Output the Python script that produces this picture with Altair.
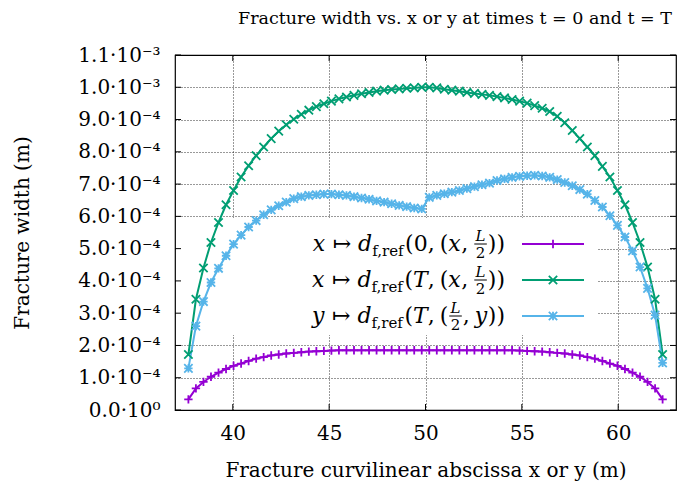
import altair as alt
import pandas as pd

SERIF = "DejaVu Serif"

# Cell-centred abscissa along the fracture (64 cells between 37.5 m and 62.5 m)
N_CELLS = 64
S_START, S_END = 37.5, 62.5
abscissa = [S_START + (k + 0.5) * (S_END - S_START) / N_CELLS for k in range(N_CELLS)]

UNIT = 1e-4  # widths below are listed in units of 1e-4 m

width_t0_x = [
    0.33, 0.67, 0.87, 1.03, 1.16, 1.27, 1.37, 1.44, 1.52, 1.59, 1.64, 1.69, 1.72, 1.75, 1.77, 1.79,
    1.81, 1.82, 1.83, 1.84, 1.85, 1.85, 1.85, 1.85, 1.85, 1.85, 1.85, 1.85, 1.85, 1.85, 1.85, 1.85,
    1.85, 1.85, 1.85, 1.85, 1.85, 1.85, 1.85, 1.85, 1.85, 1.85, 1.85, 1.85, 1.84, 1.83, 1.82, 1.81,
    1.79, 1.77, 1.75, 1.72, 1.69, 1.64, 1.59, 1.52, 1.44, 1.37, 1.27, 1.16, 1.03, 0.87, 0.67, 0.33,
]
width_T_x = [
    1.72, 3.43, 4.40, 5.19, 5.81, 6.36, 6.80, 7.22, 7.57, 7.88, 8.15, 8.41, 8.64, 8.84, 9.01, 9.16,
    9.29, 9.40, 9.49, 9.57, 9.64, 9.70, 9.75, 9.80, 9.84, 9.88, 9.91, 9.93, 9.95, 9.97, 9.98, 10.0,
    10.0, 9.98, 9.94, 9.91, 9.88, 9.84, 9.81, 9.78, 9.75, 9.71, 9.67, 9.62, 9.57, 9.51, 9.43, 9.35,
    9.25, 9.10, 8.90, 8.66, 8.41, 8.15, 7.88, 7.55, 7.22, 6.80, 6.36, 5.81, 5.19, 4.43, 3.43, 1.72,
]
width_T_y = [
    1.29, 2.60, 3.36, 3.95, 4.39, 4.78, 5.14, 5.42, 5.67, 5.87, 6.05, 6.20, 6.33, 6.44, 6.55, 6.61,
    6.65, 6.67, 6.69, 6.69, 6.67, 6.65, 6.61, 6.57, 6.53, 6.48, 6.44, 6.39, 6.34, 6.30, 6.26, 6.23,
    6.59, 6.65, 6.70, 6.75, 6.80, 6.86, 6.92, 6.98, 7.03, 7.11, 7.16, 7.21, 7.24, 7.26, 7.27, 7.25,
    7.21, 7.14, 7.05, 6.95, 6.83, 6.69, 6.49, 6.29, 6.02, 5.72, 5.36, 4.93, 4.43, 3.77, 2.94, 1.46,
]

series_names = ["t0_x", "T_x", "T_y"]
series_colors = ["#9400d3", "#009e73", "#56b4e9"]
# plus, cross and star symbols
series_shapes = [
    "M-1,0L1,0M0,-1L0,1",
    "M-1,-1L1,1M-1,1L1,-1",
    "M-1,0L1,0M0,-1L0,1M-1,-1L1,1M-1,1L1,-1",
]

x_ticks = [40, 45, 50, 55, 60]
y_ticks = [i * UNIT for i in range(12)]
y_tick_labels = [
    "0.0·10⁰", "1.0·10⁻⁴", "2.0·10⁻⁴", "3.0·10⁻⁴", "4.0·10⁻⁴", "5.0·10⁻⁴",
    "6.0·10⁻⁴", "7.0·10⁻⁴", "8.0·10⁻⁴", "9.0·10⁻⁴", "1.0·10⁻³", "1.1·10⁻³",
]

rows = []
for name, vals in zip(series_names, [width_t0_x, width_T_x, width_T_y]):
    for s, v in zip(abscissa, vals):
        rows.append({"series": name, "s": s, "w": v * UNIT})
df = pd.DataFrame(rows)

W, H = 501, 355
FS = 20
xscale = alt.Scale(domain=[37, 63], nice=False, zero=False)
yscale = alt.Scale(domain=[0, 11 * UNIT], nice=False, zero=False)
color = alt.Color("series:N", scale=alt.Scale(domain=series_names, range=series_colors), legend=None)
shape = alt.Shape("series:N", scale=alt.Scale(domain=series_names, range=series_shapes), legend=None)

label_expr = "[" + ",".join("'%s'" % t for t in y_tick_labels) + "][round(datum.value * 10000)]"

x_enc = alt.X(
    "s:Q", scale=xscale,
    axis=alt.Axis(
        values=x_ticks, title="Fracture curvilinear abscissa x or y (m)",
        ticks=False, tickSize=0, domain=False, labelPadding=13,
        grid=True, gridDash=[1, 2], gridColor="#000000", gridOpacity=0.8,
        titleY=60, titleBaseline="middle",
    ),
)
y_enc = alt.Y(
    "w:Q", scale=yscale,
    axis=alt.Axis(
        values=y_ticks, labelExpr=label_expr, title="Fracture width (m)",
        ticks=False, tickSize=0, domain=False, labelPadding=15,
        grid=True, gridDash=[1, 2], gridColor="#000000", gridOpacity=0.8,
        titleX=-153, titleY=H / 2, titleAngle=270, titleAlign="center", titleBaseline="middle",
    ),
)

one = pd.DataFrame({"k": [0]})

# opaque key box: hides the grid, drawn below the curves
key_box = alt.Chart(one).mark_rect(color="white").encode(
    x=alt.value(1), x2=alt.value(423), y=alt.value(163), y2=alt.value(280)
)

lines = alt.Chart(df).mark_line(strokeWidth=2).encode(x=x_enc, y=y_enc, color=color)
points = alt.Chart(df).mark_point(filled=False, size=70, strokeWidth=1.8, opacity=1).encode(
    x=x_enc, y=y_enc, color=color, shape=shape,
)

# inward tick marks on all four borders
xt = pd.DataFrame({"s": x_ticks})
yt = pd.DataFrame({"w": y_ticks})
ticks = [
    alt.Chart(xt).mark_rule(color="black").encode(x=x_enc, y=alt.value(H), y2=alt.value(H - 6)),
    alt.Chart(xt).mark_rule(color="black").encode(x=x_enc, y=alt.value(0), y2=alt.value(6)),
    alt.Chart(yt).mark_rule(color="black").encode(y=y_enc, x=alt.value(0), x2=alt.value(6)),
    alt.Chart(yt).mark_rule(color="black").encode(y=y_enc, x=alt.value(W), x2=alt.value(W - 6)),
]

# ---- key: math-style labels built from text pieces ----
F, S = 22, 15
EM = {"(": .390, ")": .390, ",": .318, "0": .636, "2": .636, "↦": .838,
      "x": .592, "y": .592, "d": .640, "T": .667, "L": .637,
      "f": .370, "r": .478, "e": .592}


def adv(txt, size):
    return sum(EM.get(c, .55) for c in txt) * size


def frac_w():
    return EM["L"] * S + 5


def tok_w(tok):
    kind = tok[0]
    if kind == "gap":
        return tok[1]
    if kind == "frac":
        return frac_w()
    if kind == "sub":
        return adv(tok[1], S)
    return adv(tok[1], F)


def mapsto(var):
    return [("it", var), ("gap", 7), ("rm", "↦"), ("gap", 7), ("it", "d"), ("sub", "f,ref"), ("gap", 1)]


key_tokens = {
    "t0_x": mapsto("x") + [("rm", "("), ("rm", "0"), ("rm", ","), ("gap", 5), ("rm", "("), ("it", "x"),
                           ("rm", ","), ("gap", 5), ("frac",), ("rm", ")"), ("rm", ")")],
    "T_x": mapsto("x") + [("rm", "("), ("it", "T"), ("rm", ","), ("gap", 5), ("rm", "("), ("it", "x"),
                          ("rm", ","), ("gap", 5), ("frac",), ("rm", ")"), ("rm", ")")],
    "T_y": mapsto("y") + [("rm", "("), ("it", "T"), ("rm", ","), ("gap", 5), ("rm", "("), ("frac",),
                          ("rm", ","), ("gap", 5), ("it", "y"), ("rm", ")"), ("rm", ")")],
}
key_rows_y = {"t0_x": 189, "T_x": 225, "T_y": 261}
KEY_TEXT_RIGHT = 330

pieces, bars = [], []
for name in series_names:
    toks = key_tokens[name]
    ay = key_rows_y[name]
    x = KEY_TEXT_RIGHT - sum(tok_w(t) for t in toks)
    for tok in toks:
        kind = tok[0]
        if kind == "gap":
            x += tok[1]
            continue
        if kind == "frac":
            w = frac_w()
            cx = x + w / 2
            pieces.append({"t": "L", "px": cx, "py": ay - 3, "fs": S, "kind": "itc"})
            pieces.append({"t": "2", "px": cx, "py": ay + 14, "fs": S, "kind": "rmc"})
            bars.append({"x1": x + 1, "x2": x + w - 1, "y": ay})
            x += w
            continue
        if kind == "sub":
            pieces.append({"t": tok[1], "px": x, "py": ay + 12, "fs": S, "kind": "rm"})
            x += adv(tok[1], S)
            continue
        pieces.append({"t": tok[1], "px": x, "py": ay + 7, "fs": F, "kind": kind})
        x += adv(tok[1], F)
pieces = pd.DataFrame(pieces)
bars = pd.DataFrame(bars)


def text_layer(kind, align, style):
    return alt.Chart(pieces[pieces["kind"] == kind]).mark_text(
        align=align, baseline="alphabetic", font=SERIF, fontStyle=style, color="black"
    ).encode(
        x=alt.X("px:Q", scale=None), y=alt.Y("py:Q", scale=None),
        size=alt.Size("fs:Q", scale=None, legend=None), text="t:N",
    )


key_text = [
    text_layer("it", "left", "italic"),
    text_layer("rm", "left", "normal"),
    text_layer("itc", "center", "italic"),
    text_layer("rmc", "center", "normal"),
]
key_bars = alt.Chart(bars).mark_rule(color="black", strokeWidth=1).encode(
    x=alt.X("x1:Q", scale=None), x2="x2:Q", y=alt.Y("y:Q", scale=None)
)

key_df = pd.DataFrame({"series": series_names, "ky": [key_rows_y[n] for n in series_names]})
key_lines = alt.Chart(key_df).mark_rule(strokeWidth=2).encode(
    x=alt.value(347), x2=alt.value(409), y=alt.Y("ky:Q", scale=None), color=color
)
key_marks = alt.Chart(key_df).mark_point(filled=False, size=70, strokeWidth=1.8, opacity=1).encode(
    x=alt.value(378), y=alt.Y("ky:Q", scale=None), color=color, shape=shape,
)

title = alt.Chart(one).mark_text(
    align="right", baseline="alphabetic", font=SERIF, fontSize=17.5, color="black"
).encode(x=alt.value(497), y=alt.value(-31), text=alt.value("Fracture width vs. x or y at times t = 0 and t = T"))

chart = alt.layer(
    key_box, lines, points, *ticks, key_lines, key_marks, key_bars, *key_text, title
).properties(
    width=W, height=H,
    autosize=alt.AutoSizeParams(type="none"),
    padding={"left": 175, "top": 55, "right": 9, "bottom": 71},
).configure_view(
    stroke="black", strokeWidth=1.2
).configure_axis(
    labelFont=SERIF, titleFont=SERIF, labelFontSize=FS, titleFontSize=FS,
    labelColor="black", titleColor="black", titleFontWeight="normal",
)

chart.save("out.html", embed_options={"renderer": "svg", "actions": False})
